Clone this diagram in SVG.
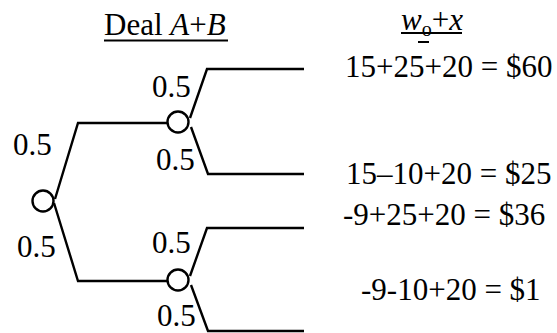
<svg xmlns="http://www.w3.org/2000/svg" width="557" height="333" viewBox="0 0 557 333">
<style>
.ln{fill:none;stroke:#000;stroke-width:2.4;stroke-linejoin:miter}
.nd{fill:#fff;stroke:#000;stroke-width:2.4}
text{font-family:'Liberation Serif','Times New Roman',Times,'DejaVu Serif',serif;font-size:31px;fill:#000}
.ul{stroke:#000;stroke-width:2}
</style>
<rect width="557" height="333" fill="#fff"/>
<g id="headers">
<text x="104" y="35" font-family="Liberation Serif">Deal <tspan font-style="italic">A</tspan>+<tspan font-style="italic">B</tspan></text>
<line class="ul" x1="104" y1="40.5" x2="228" y2="40.5"/>
<text x="401" y="30" font-family="Liberation Serif"><tspan font-style="italic">w</tspan><tspan font-size="20" dy="6">o</tspan><tspan dy="-6">+</tspan><tspan font-style="italic">x</tspan></text>
<line class="ul" x1="401" y1="33" x2="462" y2="33"/>
<line class="ul" x1="418" y1="42" x2="429" y2="42"/>
</g>
<g id="connectors">
<polyline class="ln" points="55,199 78,123 167,123"/>
<polyline class="ln" points="54,203 78,281 167,281"/>
<polyline class="ln" points="190,118 207,69 304,69"/>
<polyline class="ln" points="191,127 208,174 304,174"/>
<polyline class="ln" points="190,276 207,228 304,228"/>
<polyline class="ln" points="191,285 208,331 304,331"/>
</g>
<g id="root"><circle class="nd" cx="43" cy="201" r="10.5"/></g>
<g id="nodeA"><circle class="nd" cx="178" cy="122" r="10.5"/></g>
<g id="nodeB"><circle class="nd" cx="178" cy="280" r="10.5"/></g>
<g id="probs">
<text x="13" y="155">0.5</text>
<text x="17" y="257">0.5</text>
<text x="152" y="97">0.5</text>
<text x="156" y="170">0.5</text>
<text x="152" y="253">0.5</text>
<text x="157" y="326">0.5</text>
</g>
<g id="outcomes">
<text x="345" y="77">15+25+20 = $60</text>
<text x="346" y="184">15–10+20 = $25</text>
<text x="343" y="225">-9+25+20 = $36</text>
<text x="361" y="300">-9-10+20 = $1</text>
</g>
</svg>
